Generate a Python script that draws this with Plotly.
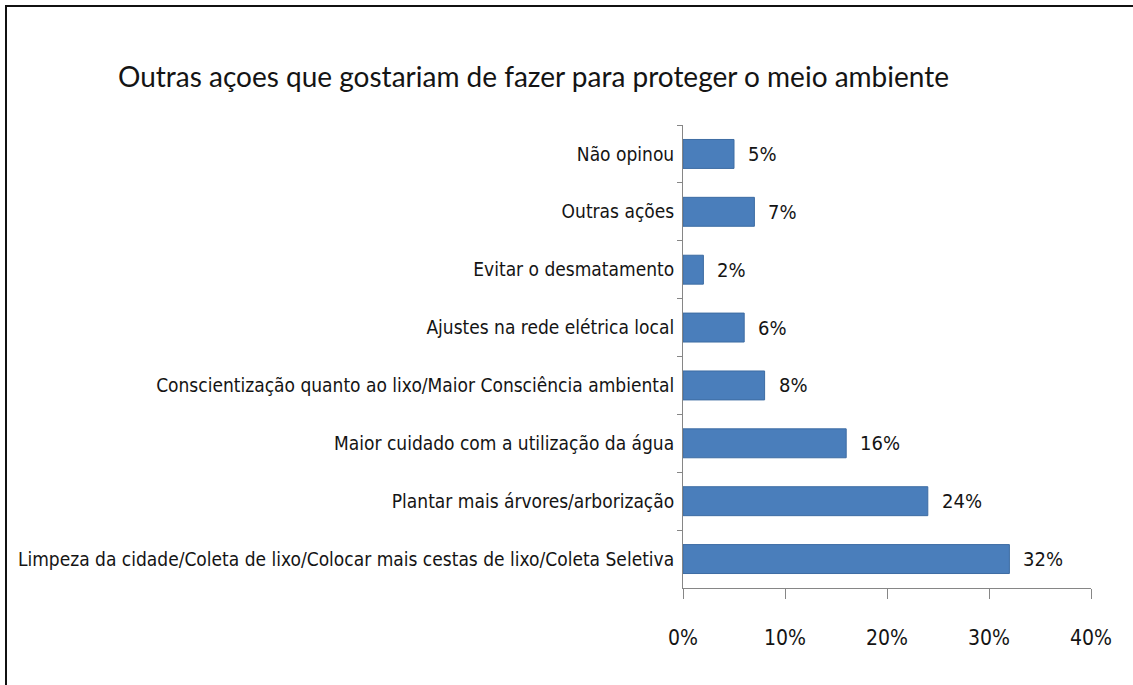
import plotly.graph_objects as go

# Survey answers, listed top to bottom as they appear on the chart
categories = [
    "Não opinou",
    "Outras ações",
    "Evitar o desmatamento",
    "Ajustes na rede elétrica local",
    "Conscientização quanto ao lixo/Maior Consciência ambiental",
    "Maior cuidado com a utilização da água",
    "Plantar mais árvores/arborização",
    "Limpeza da cidade/Coleta de lixo/Colocar mais cestas de lixo/Coleta Seletiva",
]
percentages = [5, 7, 2, 6, 8, 16, 24, 32]
x_ticks = [0, 10, 20, 30, 40]
x_tick_labels = ["0%", "10%", "20%", "30%", "40%"]

title_text = "Outras açoes que gostariam de fazer para proteger o meio ambiente"

NARROW = "Liberation Sans Narrow, DejaVu Sans Condensed, Roboto Condensed, Arial Narrow, Lato, sans-serif"
TEXT_COLOR = "#141414"
AXIS_COLOR = "#868686"

fig = go.Figure()
fig.add_trace(go.Bar(
    x=percentages,
    y=categories,
    orientation="h",
    marker=dict(color="#4a7ebb", line=dict(color="#3d6ca3", width=1)),
    hoverinfo="skip",
))

# value labels to the right of each bar
for cat, val in zip(categories, percentages):
    fig.add_annotation(
        x=val, y=cat, xref="x", yref="y",
        text=f"{val}%", showarrow=False,
        xanchor="left", yanchor="middle", xshift=12,
        font=dict(family=NARROW, size=20, color=TEXT_COLOR),
    )

fig.update_layout(
    width=1133,
    height=685,
    margin=dict(l=683, r=42, t=125, b=97, autoexpand=False),
    paper_bgcolor="white",
    plot_bgcolor="white",
    showlegend=False,
    bargap=0.5,
    title=dict(
        text=title_text,
        x=118 / 1133, xanchor="left", xref="container",
        y=1 - 77 / 685, yanchor="middle", yref="container",
        font=dict(family="Lato, Open Sans, sans-serif", size=28, color=TEXT_COLOR),
    ),
    xaxis=dict(
        range=[0, 40],
        tickvals=x_ticks,
        ticktext=x_tick_labels,
        showgrid=False,
        zeroline=False,
        showline=True,
        linecolor=AXIS_COLOR,
        linewidth=1,
        ticks="outside",
        ticklen=10,
        tickcolor=AXIS_COLOR,
        ticklabelstandoff=21,
        tickfont=dict(family=NARROW, size=21, color=TEXT_COLOR),
        automargin=False,
        fixedrange=True,
    ),
    yaxis=dict(
        categoryorder="array",
        categoryarray=categories,
        autorange="reversed",
        showgrid=False,
        zeroline=False,
        showline=True,
        linecolor=AXIS_COLOR,
        linewidth=1,
        ticks="outside",
        ticklen=5,
        tickcolor=AXIS_COLOR,
        tickson="boundaries",
        ticklabelstandoff=4,
        tickfont=dict(family=NARROW, size=19, color=TEXT_COLOR),
        automargin=False,
        fixedrange=True,
    ),
    shapes=[
        # frame around the chart (only top and left edges fall inside the canvas)
        dict(
            type="rect", xref="paper", yref="paper",
            x0=(6 - 683) / 408, x1=3,
            y0=-1, y1=1 + (125 - 6) / 463,
            line=dict(color="#111111", width=2),
            fillcolor="rgba(0,0,0,0)",
            layer="below",
        )
    ],
)

fig.write_html("out.html")
